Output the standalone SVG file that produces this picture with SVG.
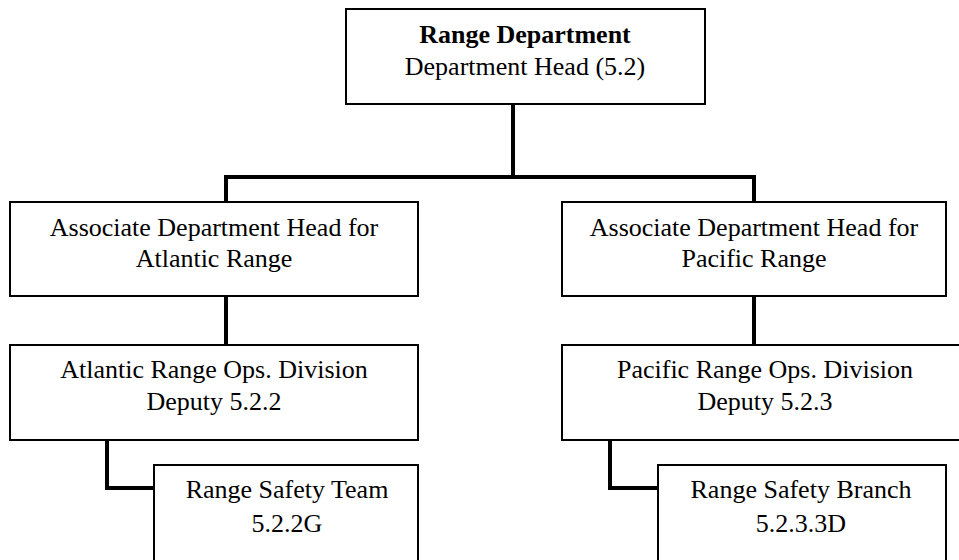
<svg xmlns="http://www.w3.org/2000/svg" width="959" height="560" viewBox="0 0 959 560">
<style>
.box{fill:#fff;stroke:#000;stroke-width:2}
.t{font-family:'Liberation Serif',Tinos,'Times New Roman',Times,'Noto Serif','DejaVu Serif',serif;font-size:26px;fill:#000;text-anchor:middle}
.b{font-weight:bold}
.c{fill:none;stroke:#000;stroke-width:4;stroke-linecap:square;stroke-linejoin:miter}
</style>
<rect width="959" height="560" fill="#fff"/>
<g id="connectors">
<path class="c" d="M513 104V177"/>
<path class="c" d="M226 202V177H754V202"/>
<path class="c" d="M226 296V345"/>
<path class="c" d="M754 296V345"/>
<path class="c" d="M107 440V488H154"/>
<path class="c" d="M610 440V488H658"/>
</g>
<g id="range-department">
<rect class="box" x="346" y="9" width="359" height="95"/>
<text class="t b" x="525" y="43">Range Department</text>
<text class="t" x="525" y="75">Department Head (5.2)</text>
</g>
<g id="atlantic-head">
<rect class="box" x="10" y="202" width="408" height="94"/>
<text class="t" x="214" y="236">Associate Department Head for</text>
<text class="t" x="214" y="267">Atlantic Range</text>
</g>
<g id="pacific-head">
<rect class="box" x="562" y="202" width="384" height="94"/>
<text class="t" x="754" y="236">Associate Department Head for</text>
<text class="t" x="754" y="267">Pacific Range</text>
</g>
<g id="atlantic-division">
<rect class="box" x="10" y="345" width="408" height="95"/>
<text class="t" x="214" y="378">Atlantic Range Ops. Division</text>
<text class="t" x="214" y="410">Deputy 5.2.2</text>
</g>
<g id="pacific-division">
<rect class="box" x="562" y="345" width="406" height="95"/>
<text class="t" x="765" y="378">Pacific Range Ops. Division</text>
<text class="t" x="765" y="410">Deputy 5.2.3</text>
</g>
<g id="range-safety-team">
<rect class="box" x="154" y="465" width="264" height="110"/>
<text class="t" x="287" y="498">Range Safety Team</text>
<text class="t" x="287" y="532">5.2.2G</text>
</g>
<g id="range-safety-branch">
<rect class="box" x="658" y="465" width="288" height="110"/>
<text class="t" x="801" y="498">Range Safety Branch</text>
<text class="t" x="801" y="532">5.2.3.3D</text>
</g>
</svg>
